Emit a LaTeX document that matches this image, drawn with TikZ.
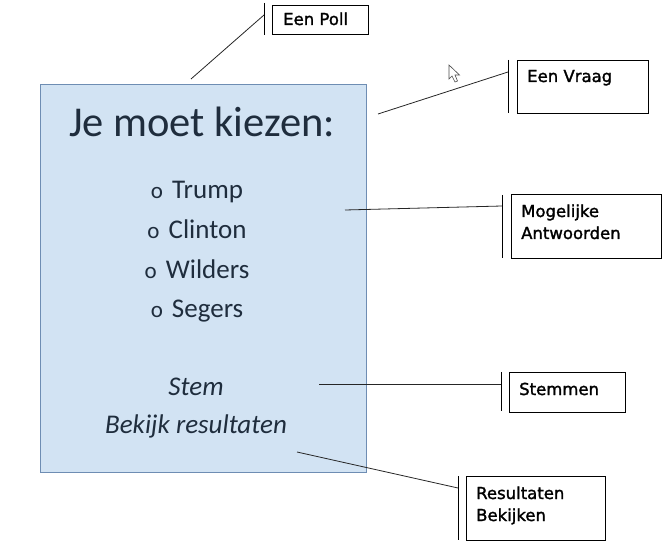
\documentclass[tikz,border=0pt]{standalone}
\usepackage{fontspec}
\setmainfont{Carlito}
\newfontfamily\callfont[FakeBold=1.6]{DejaVu Sans}
\definecolor{pollblue}{HTML}{D2E3F3}
\definecolor{polledge}{HTML}{6E8DB3}
\definecolor{polltext}{HTML}{1F2D3D}
\begin{document}
\begin{tikzpicture}[x=1pt,y=-1pt,
  callbox/.style={draw=black,line width=0.8pt,anchor=north west,inner sep=0pt},
  calltext/.style={anchor=base west,inner sep=0pt,font=\callfont\fontsize{16.5}{22}\selectfont,align=left},
  pollline/.style={anchor=base,inner sep=0pt,text=polltext,font=\fontsize{27}{30}\selectfont},
  leader/.style={draw=black!85,line width=0.8pt},
  bar/.style={draw=black,line width=1pt}]
\useasboundingbox (0,0) rectangle (672,556);
% main panel
\node[draw=polledge,fill=pollblue,line width=0.8pt,anchor=north west,minimum width=326pt,minimum height=388pt,inner sep=0pt] (panel) at (40,84) {};
\node[anchor=base,inner sep=0pt,text=polltext,font=\fontsize{42.5}{48}\selectfont] (title) at (202,137) {Je moet kiezen:};
\node[pollline] (o1) at (197,199) {{\fontsize{23}{24}\selectfont o}\hspace{3pt} Trump};
\node[pollline] (o2) at (197,239) {{\fontsize{23}{24}\selectfont o}\hspace{3pt} Clinton};
\node[pollline] (o3) at (197,278) {{\fontsize{23}{24}\selectfont o}\hspace{3pt} Wilders};
\node[pollline] (o4) at (197,317) {{\fontsize{23}{24}\selectfont o}\hspace{3pt} Segers};
\node[pollline,font=\itshape\fontsize{27}{30}\selectfont] (stem) at (196,395) {Stem};
\node[pollline,font=\itshape\fontsize{27}{30}\selectfont] (bekijk) at (196,433) {Bekijk resultaten};
% callout boxes
\node[callbox,minimum width=96pt,minimum height=29pt] (bpoll) at (272,5) {};
\node[calltext] (tpoll) at (283,25) {Een Poll};
\node[callbox,minimum width=131pt,minimum height=53pt] (bvraag) at (517,60) {};
\node[calltext] (tvraag) at (527,82) {Een Vraag};
\node[callbox,minimum width=150pt,minimum height=64pt] (bmog) at (511,194) {};
\node[calltext] (tmog) at (521,239) {Mogelijke\\Antwoorden};
\node[callbox,minimum width=116pt,minimum height=40pt] (bstem) at (509,372) {};
\node[calltext] (tstem) at (519,395) {Stemmen};
\node[callbox,minimum width=139pt,minimum height=64pt] (bres) at (466,476) {};
\node[calltext] (tres) at (476,521) {Resultaten\\Bekijken};
% bars
\coordinate (p1a) at (264,3); \coordinate (p1b) at (264,35);
\coordinate (p2a) at (508,60); \coordinate (p2b) at (508,113);
\coordinate (p3a) at (502,195); \coordinate (p3b) at (502,258);
\coordinate (p4a) at (501,372); \coordinate (p4b) at (501,411);
\coordinate (p5a) at (458,476); \coordinate (p5b) at (458,540);
\draw[bar] (p1a) -- (p1b);
\draw[bar] (p2a) -- (p2b);
\draw[bar] (p3a) -- (p3b);
\draw[bar] (p4a) -- (p4b);
\draw[bar] (p5a) -- (p5b);
% leader lines
\coordinate (l1) at (264,15); \coordinate (e1) at (191,79);
\coordinate (l2) at (508,72); \coordinate (e2) at (378,114);
\coordinate (l3) at (502,206); \coordinate (e3) at (345,210);
\coordinate (l4) at (501,384); \coordinate (e4) at (319,384);
\coordinate (l5) at (458,488); \coordinate (e5) at (297,452);
\draw[leader] (l1) -- (e1);
\draw[leader] (l2) -- (e2);
\draw[leader] (l3) -- (e3);
\draw[leader] (l4) -- (e4);
\draw[leader] (l5) -- (e5);
% mouse cursor
\draw[fill=white,draw=black!70,line width=0.6pt,line join=miter] (449,65) -- (449,79) -- (452,76) -- (455,82) -- (457.5,81) -- (455,75) -- (459.5,75) -- cycle;
\end{tikzpicture}
\end{document}
